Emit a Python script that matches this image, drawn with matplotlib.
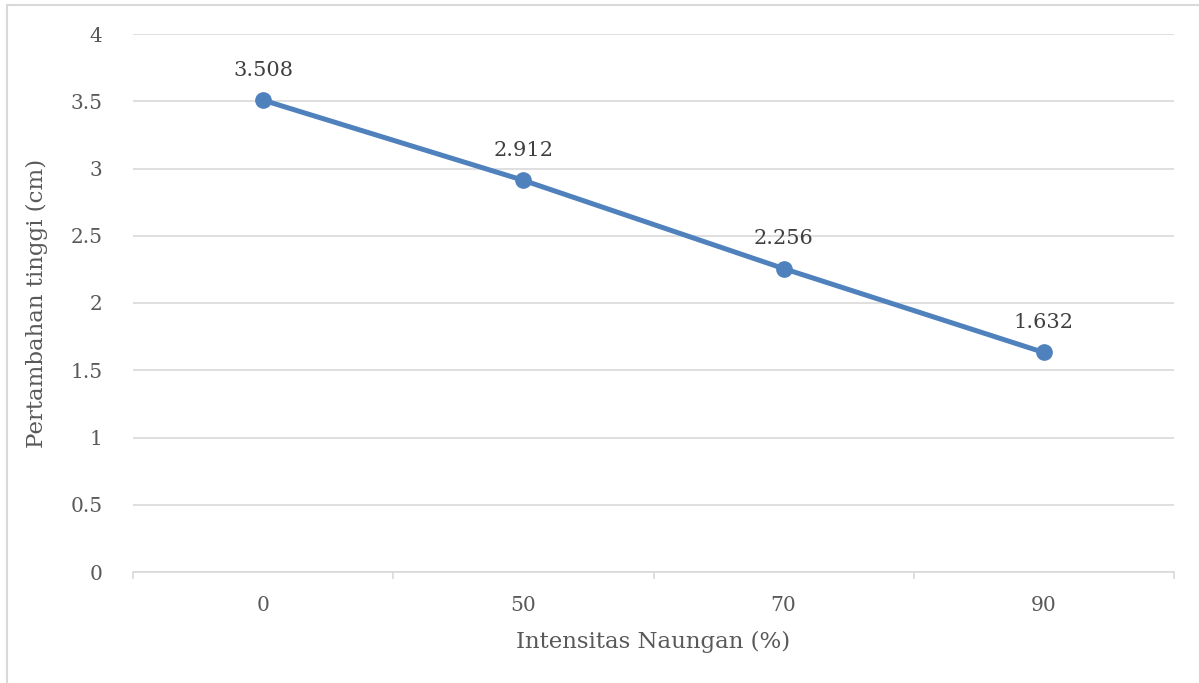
import matplotlib.pyplot as plt
from matplotlib.patches import Rectangle

# shading intensity vs height increase
categories = ['0', '50', '70', '90']
height_gain = [3.508, 2.912, 2.256, 1.632]

W, H = 1199, 683
fig = plt.figure(figsize=(W / 100, H / 100), dpi=100)
plt.rcParams['font.family'] = ['DejaVu Serif']

# outer chart border (clipped by the image edges on right/bottom)
fig.patches.append(Rectangle((7 / W, -0.1), 1.2, 1 - 5 / H + 0.1, transform=fig.transFigure,
                             fill=False, edgecolor='#D9D9D9', linewidth=1.5))

ax = fig.add_axes([133 / W, 1 - 572 / H, (1174 - 133) / W, (572 - 34) / H])
x = list(range(len(categories)))
ax.plot(x, height_gain, color='#4F81BD', linewidth=3.6, marker='o', markersize=11,
        solid_capstyle='round', zorder=3)
for xi, v in zip(x, height_gain):
    ax.annotate(f'{v:.3f}', (xi, v), xytext=(0, 21.5), textcoords='offset points',
                ha='center', va='center', fontsize=15, color='#404040')

ax.set_xlim(-0.5, len(categories) - 0.5)
ax.set_ylim(0, 4)
ax.set_yticks([0, 0.5, 1, 1.5, 2, 2.5, 3, 3.5, 4])
ax.set_yticklabels(['0', '0.5', '1', '1.5', '2', '2.5', '3', '3.5', '4'])
ax.set_xticks(x)
ax.set_xticklabels(categories)
ax.set_xticks([i - 0.5 for i in range(len(categories) + 1)], minor=True)

ax.grid(axis='y', color='#D9D9D9', linewidth=1.2)
ax.set_axisbelow(True)
for s in ['top', 'right', 'left']:
    ax.spines[s].set_visible(False)
ax.spines['bottom'].set_color('#D9D9D9')
ax.spines['bottom'].set_linewidth(1.2)

ax.tick_params(axis='y', length=0, pad=22, labelsize=14.5, labelcolor='#595959')
ax.tick_params(axis='x', which='major', length=0, pad=17, labelsize=14.5, labelcolor='#595959')
ax.tick_params(axis='x', which='minor', length=5, width=1.2, color='#D9D9D9')

ax.set_xlabel('Intensitas Naungan (%)', fontsize=16.5, color='#595959', labelpad=12)
ax.set_ylabel('Pertambahan tinggi (cm)', fontsize=16.5, color='#595959', labelpad=16)

fig.savefig('out.png', dpi=100)
